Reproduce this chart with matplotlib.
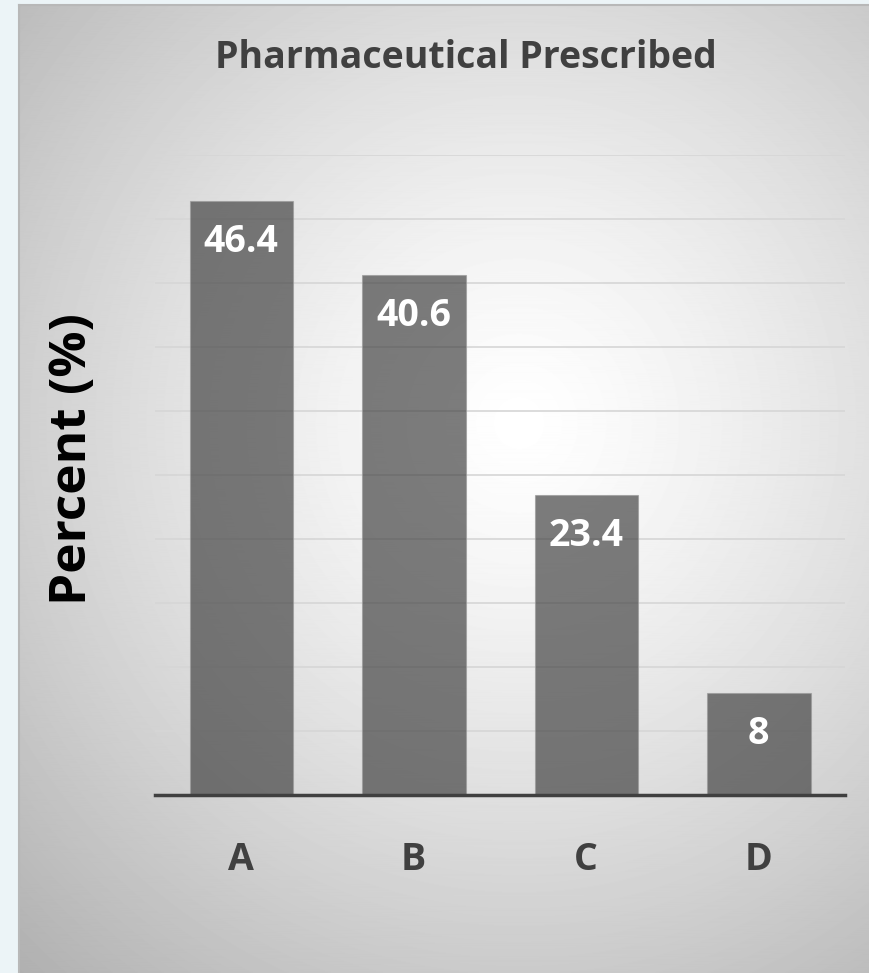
import numpy as np
import matplotlib.pyplot as plt

# bar data
categories = ["A", "B", "C", "D"]
percent = [46.4, 40.6, 23.4, 8]

W, H = 869, 973
fig = plt.figure(figsize=(W / 100, H / 100), dpi=100)
fig.patch.set_facecolor("#ecf4f7")

# chart area with radial grey gradient
x0, y1 = 19 / W, 1 - 5 / H
bg = fig.add_axes([x0, 0, 1 - x0, y1])
yy, xx = np.mgrid[0:H, 0:W - 19]
r = np.hypot((xx - 500) / 620, (yy - 420) / 640)
shade = np.clip(1.0 - 0.25 * r ** 1.3, 0, 1)
bg.imshow(shade, cmap="gray", vmin=0, vmax=1, aspect="auto",
          extent=[0, 1, 0, 1], origin="upper")
bg.set_xlim(0, 1)
bg.set_ylim(0, 1)
bg.set_xticks([])
bg.set_yticks([])
for s in ["right", "bottom"]:
    bg.spines[s].set_visible(False)
for s in ["left", "top"]:
    bg.spines[s].set_color("#b8b8b8")
    bg.spines[s].set_linewidth(1.5)

font = "Open Sans"
ax = fig.add_axes([155 / W, 1 - 795 / H, 690 / W, 640 / H])
ax.patch.set_alpha(0)
x = np.arange(len(categories))
bars = ax.bar(x, percent, width=0.6, color="#3f3f3f", alpha=0.68,
              edgecolor="#9a9a9a", linewidth=0.8, zorder=2)
ax.set_xlim(-0.5, 3.5)
ax.set_ylim(0, 50)
ax.set_yticks(np.arange(5, 51, 5))
ax.yaxis.grid(True, color="#d6d6d6", linewidth=1.2, zorder=1)
ax.set_axisbelow(True)
ax.tick_params(axis="y", left=False, labelleft=False)
ax.tick_params(axis="x", length=0, pad=33)
ax.set_xticks(x)
ax.set_xticklabels(categories, fontsize=27, fontweight="bold",
                   color="#404040", fontfamily=font)
for s in ["left", "right", "top"]:
    ax.spines[s].set_visible(False)
ax.spines["bottom"].set_color("#404040")
ax.spines["bottom"].set_linewidth(2.5)
ax.spines["bottom"].set_zorder(3)

for b, v in zip(bars, percent):
    ax.text(b.get_x() + b.get_width() / 2, v - 3.2, f"{v:g}",
            ha="center", va="center", fontsize=27, fontweight="bold",
            color="white", fontfamily=font, zorder=4)

fig.text(466 / W, 1 - 58 / H, "Pharmaceutical Prescribed", ha="center",
         va="center", fontsize=27, fontweight="bold", color="#404040",
         fontfamily=font)
fig.text(73 / W, 1 - 459 / H, "Percent (%)", ha="center", va="center",
         rotation=90, fontsize=37, fontweight="bold", color="black",
         fontfamily=font)

fig.savefig("out.png", dpi=100)
